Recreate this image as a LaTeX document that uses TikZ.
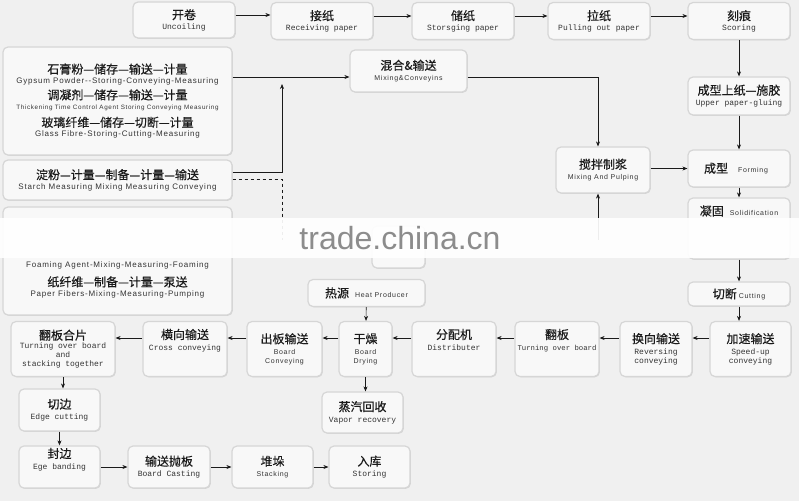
\documentclass[tikz,border=0pt]{standalone}
\usepackage{fontspec}
\usetikzlibrary{arrows.meta,positioning,shadows}
\newfontfamily\zhfont{Noto Sans CJK SC}[FakeBold=0.35]
\newfontfamily\monoen{Liberation Mono}
\newfontfamily\sansen{Liberation Sans}[LetterSpace=10]
\newfontfamily\wmfont{Liberation Sans}
\definecolor{canvas}{HTML}{F0F0F0}
\definecolor{cardfill}{HTML}{F8F8F8}
\definecolor{cardline}{HTML}{D6D6D6}
\definecolor{ink}{HTML}{1A1A1A}
\definecolor{inksoft}{HTML}{333333}
\definecolor{wmgray}{HTML}{8C8C8C}
\newcommand\zhtxt{\zhfont\fontsize{12}{14}\selectfont\color{ink}}
\newcommand\motxt{\monoen\fontsize{8}{10}\selectfont\color{inksoft}}
\newcommand\satxt{\sansen\fontsize{7}{9}\selectfont\color{inksoft}}
\newcommand\sbtxt{\sansen\fontsize{8}{10}\selectfont\color{inksoft}}
\tikzset{
  card/.style={draw=cardline,fill=cardfill,line width=1.2pt,rounded corners=5pt,
               align=center,inner sep=2pt,font=\fontsize{8}{11}\selectfont,
               drop shadow={shadow xshift=0.8pt,shadow yshift=-0.8pt,opacity=0.25}},
  cardtext/.style={align=center,inner sep=0pt,font=\fontsize{8}{11}\selectfont},
  flow/.style={-{Stealth[length=5pt,width=4pt]},line width=0.6pt,draw=ink},
  dashflow/.style={dashed,line width=0.6pt,draw=ink},
  band/.style={fill=white,opacity=0.92}
}

\begin{document}
\begin{tikzpicture}[x=1pt,y=-1pt]
  \fill[canvas] (0,0) rectangle (799,501);

  % top row: paper line
  \node[card,minimum width=102pt,minimum height=36pt] (uncoil) at (184,20)
    {{\zhtxt 开卷}\\[-1pt]{\motxt Uncoiling}};
  \node[card,minimum width=102pt,minimum height=37pt] (recv) at (322,21)
    {{\zhtxt 接纸}\\[-1pt]{\motxt Receiving paper}};
  \node[card,minimum width=102pt,minimum height=37pt] (store) at (463,21)
    {{\zhtxt 储纸}\\[-1pt]{\motxt Storsging paper}};
  \node[card,minimum width=102pt,minimum height=37pt] (pull) at (599,21)
    {{\zhtxt 拉纸}\\[-1pt]{\motxt Pulling out paper}};
  \node[card,minimum width=102pt,minimum height=37pt] (score) at (739,21)
    {{\zhtxt 刻痕}\\[-1pt]{\motxt Scoring}};

  % left column: raw materials
  \node[card,minimum width=229pt,minimum height=108pt] (gyps) at (117.5,101)
    {{\zhtxt 石膏粉—储存—输送—计量}\\[-1pt]
     {\sbtxt Gypsum Powder--Storing-Conveying-Measuring}\\[3pt]
     {\zhtxt 调凝剂—储存—输送—计量}\\[-1pt]
     {\sansen\fontsize{6.3}{8}\selectfont\color{inksoft}
       Thickening Time Control Agent Storing Conveying Measuring}\\[5pt]
     {\zhtxt 玻璃纤维—储存—切断—计量}\\[-1pt]
     {\sbtxt Glass Fibre-Storing-Cutting-Measuring}};
  \node[card,minimum width=229pt,minimum height=40pt] (starch) at (117.5,180)
    {{\zhtxt 淀粉—计量—制备—计量—输送}\\[-1pt]
     {\sbtxt Starch Measuring Mixing Measuring Conveying}};
  \node[card,minimum width=229pt,minimum height=108pt] (foam) at (117.5,261) {};
  \node[cardtext] (foamtext) at (117.5,280)
    {{\sbtxt Foaming Agent-Mixing-Measuring-Foaming}\\[6pt]
     {\zhtxt 纸纤维—制备—计量—泵送}\\[-1pt]
     {\sbtxt Paper Fibers-Mixing-Measuring-Pumping}};

  % mixing
  \node[card,minimum width=117pt,minimum height=42pt] (mix) at (408.5,71)
    {{\zhtxt 混合\&输送}\\{\satxt Mixing\&Conveyins}};
  \node[card,minimum width=94pt,minimum height=46pt] (pulp) at (603,170)
    {{\zhtxt 搅拌制浆}\\{\satxt Mixing And Pulping}};
  \node[card,minimum width=53pt,minimum height=42pt] (hidden) at (398.5,247) {};

  % right column: forming line
  \node[card,minimum width=102pt,minimum height=38pt] (glue) at (739,96)
    {{\zhtxt 成型上纸—施胶}\\{\motxt Upper paper-gluing}};
  \node[card,minimum width=102pt,minimum height=37pt] (form) at (739,168.5)
    {{\zhtxt 成型}\hspace{10pt}{\satxt Forming}\hspace{6pt}};
  \node[card,minimum width=102pt,minimum height=61pt] (solid) at (739,228.5) {};
  \node[cardtext] (solidtext) at (739,211)
    {{\zhtxt 凝固}\hspace{6pt}{\satxt Solidification}};
  \node[card,minimum width=102pt,minimum height=24pt] (cut) at (739,294)
    {{\zhtxt 切断}\hspace{2pt}{\satxt Cutting}};
  \node[card,minimum width=81pt,minimum height=55pt] (speed) at (750.5,349)
    {{\zhtxt 加速输送}\\{\motxt Speed-up}\\[-2pt]{\motxt conveying}};

  % middle row: drying line
  \node[card,minimum width=72pt,minimum height=55pt] (revs) at (656,349)
    {{\zhtxt 换向输送}\\{\motxt Reversing}\\[-2pt]{\motxt conveying}};
  \node[card,minimum width=84pt,minimum height=55pt] (turn) at (557,349)
    {{\zhtxt 翻板}\\{\monoen\fontsize{7.3}{9}\selectfont\color{inksoft}Turning over board}\\[8pt]};
  \node[card,minimum width=84pt,minimum height=55pt] (dist) at (454,349)
    {{\zhtxt 分配机}\\{\motxt Distributer}\\[8pt]};
  \node[card,minimum width=53pt,minimum height=55pt] (dry) at (365.5,349)
    {{\zhtxt 干燥}\\{\satxt Board}\\[-2pt]{\satxt Drying}};
  \node[card,minimum width=75pt,minimum height=55pt] (outc) at (284.5,349)
    {{\zhtxt 出板输送}\\{\satxt Board}\\[-2pt]{\satxt Conveying}};
  \node[card,minimum width=84pt,minimum height=55pt] (cross) at (185,349)
    {{\zhtxt 横向输送}\\{\motxt Cross conveying}\\[8pt]};
  \node[card,minimum width=104pt,minimum height=55pt] (stack) at (63,349)
    {{\zhtxt 翻板合片}\\[-2pt]{\motxt Turning over board}\\[-2pt]{\motxt and}\\[-2pt]
     {\motxt stacking together}};
  \node[card,minimum width=117pt,minimum height=27pt] (heat) at (366.5,293)
    {{\zhtxt 热源}\hspace{6pt}{\satxt Heat Producer}};
  \node[card,minimum width=81pt,minimum height=41pt] (vapor) at (362.5,412.5)
    {{\zhtxt 蒸汽回收}\\{\motxt Vapor recovery}};

  % bottom rows: finishing
  \node[card,minimum width=81pt,minimum height=42pt] (edge) at (59.5,410)
    {{\zhtxt 切边}\\{\motxt Edge cutting}};
  \node[card,minimum width=81pt,minimum height=42pt] (band) at (59.5,467)
    {{\zhtxt 封边}\\{\motxt Ege banding}\\[6pt]};
  \node[card,minimum width=82pt,minimum height=42pt] (cast) at (169,467)
    {{\zhtxt 输送抛板}\\{\motxt Board Casting}};
  \node[card,minimum width=81pt,minimum height=42pt] (pile) at (272.5,467)
    {{\zhtxt 堆垛}\\{\satxt Stacking}};
  \node[card,minimum width=81pt,minimum height=42pt] (ware) at (369.5,467)
    {{\zhtxt 入库}\\{\motxt Storing}};

  \coordinate (mixin) at ([yshift=-6pt]mix.west);
  \coordinate (mixout) at ([yshift=-6pt]mix.east);
  \coordinate (joinup) at (282,84);
  \coordinate (dashend) at (282,240);
  \coordinate (pulpfeed) at (598,240);

  % connectors
  \draw[flow] ([yshift=5pt]uncoil.east) -- ([yshift=5pt]uncoil.east -| recv.west);
  \draw[flow] ([yshift=5pt]recv.east) -- ([yshift=5pt]recv.east -| store.west);
  \draw[flow] ([yshift=5pt]store.east) -- ([yshift=5pt]store.east -| pull.west);
  \draw[flow] ([yshift=5pt]pull.east) -- ([yshift=5pt]pull.east -| score.west);
  \draw[flow] (score) -- (glue);
  \draw[flow] (glue) -- (form);
  \draw[flow] (form) -- (solid);
  \draw[flow] (solid) -- (cut);
  \draw[flow] (cut.south) -- (cut.south |- speed.north);
  \draw[flow] (gyps.east |- mixin) -- (mixin);
  \draw[flow] ([yshift=8pt]starch.east) -| (joinup);
  \draw[dashflow] ([yshift=1pt]starch.east) -| (dashend);
  \draw[flow] (mixout) -| ([xshift=-5pt]pulp.north);
  \draw[flow] (pulpfeed) -- ([xshift=-5pt]pulp.south);
  \draw[flow] (pulp.east |- form.west) -- (form.west);
  \foreach \from/\to in {speed/revs,revs/turn,turn/dist,dist/dry,dry/outc,outc/cross,cross/stack}{
    \draw[flow] ([yshift=11pt]\from.west) -- ([yshift=11pt]\from.west -| \to.east);
  }
  \draw[flow] (heat) -- (dry);
  \draw[flow] (dry.south) -- (dry.south |- vapor.north);
  \draw[flow] (stack.south) -- (stack.south |- edge.north);
  \draw[flow] (edge) -- (band);
  \draw[flow] (band) -- (cast);
  \draw[flow] (cast) -- (pile);
  \draw[flow] (pile) -- (ware);

  % watermark
  \fill[band] (0,218) rectangle (799,258);
  \node[text=wmgray,font=\wmfont\fontsize{32}{34}\selectfont] (wmark) at (400,238)
    {trade.china.cn};
\end{tikzpicture}
\end{document}
